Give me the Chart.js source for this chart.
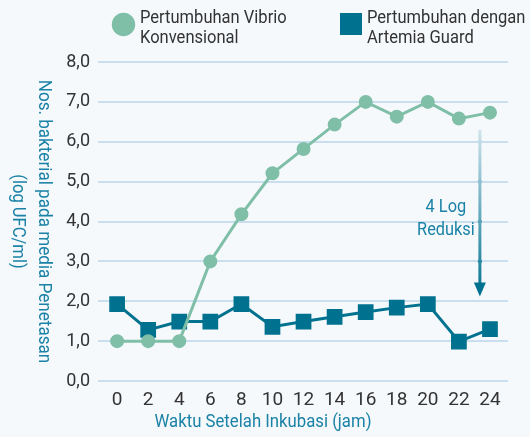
<!DOCTYPE html>
<html>
<head>
<meta charset="utf-8">
<script src="https://cdn.jsdelivr.net/npm/chart.js@4"></script>
<style>
  html, body { margin: 0; padding: 0; background: #f6f9fc; }
  #wrap { width: 530px; height: 437px; position: relative; }
</style>
</head>
<body>
<div id="wrap"><canvas id="chart"></canvas></div>
<script>
// Data
const hours = [0, 2, 4, 6, 8, 10, 12, 14, 16, 18, 20, 22, 24];
const vibrio = [1.0, 1.0, 1.0, 3.0, 4.18, 5.21, 5.82, 6.43, 7.0, 6.63, 7.0, 6.58, 6.73];
const artemia = [1.93, 1.28, 1.49, 1.49, 1.93, 1.36, 1.49, 1.61, 1.73, 1.84, 1.93, 0.99, 1.3];
const yTicks = [0, 1, 2, 3, 4, 5, 6, 7, 8];

const vibrioLabel = ['Pertumbuhan Vibrio', 'Konvensional'];
const artemiaLabel = ['Pertumbuhan dengan', 'Artemia Guard'];
const yTitle = ['Nos. bakterial pada media Penetasan', '(log UFC/ml)'];
const xTitle = 'Waktu Setelah Inkubasi (jam)';
const noteText = ['4 Log', 'Reduksi'];

// Colours
const GREEN = '#80bfa7';
const BLUE = '#00728f';
const GRID = '#c9dff0';
const TEAL = '#1a82a6';
const FONT = 'Roboto, "Liberation Sans", sans-serif';

// Arrow "4 Log Reduksi" (in data units)
const arrowHour = 23.35;
const arrowFrom = 6.3;
const arrowTo = 2.12;

// condensed text: draw squeezed horizontally
function narrowText(ctx, text, x, y, sx) {
  ctx.save();
  ctx.translate(x, y);
  ctx.scale(sx, 1);
  ctx.fillText(text, 0, 0);
  ctx.restore();
}

const extras = {
  id: 'extras',
  afterDraw(chart) {
    const { ctx, scales: { x, y } } = chart;
    ctx.save();

    // legend
    ctx.font = '19px ' + FONT;
    ctx.textBaseline = 'alphabetic';
    ctx.textAlign = 'left';
    ctx.fillStyle = GREEN;
    ctx.beginPath();
    ctx.arc(123.5, 24.5, 11.7, 0, Math.PI * 2);
    ctx.fill();
    ctx.fillStyle = BLUE;
    ctx.fillRect(340, 13, 22, 22);
    ctx.fillStyle = '#333';
    vibrioLabel.forEach((t, i) => narrowText(ctx, t, 140, 23 + i * 20, 0.87));
    artemiaLabel.forEach((t, i) => narrowText(ctx, t, 367, 23 + i * 20, 0.87));

    // axis titles
    ctx.fillStyle = TEAL;
    ctx.font = '18px ' + FONT;
    ctx.textAlign = 'center';
    ctx.textBaseline = 'middle';
    narrowText(ctx, xTitle, 263, 422, 0.93);

    const cy = (chart.chartArea.top + chart.chartArea.bottom) / 2;
    ctx.save();
    ctx.translate(43, cy);
    ctx.rotate(Math.PI / 2);
    narrowText(ctx, yTitle[0], 0, 0, 0.95);
    narrowText(ctx, yTitle[1], 0, 26, 0.92);
    ctx.restore();

    // arrow
    const ax = x.getPixelForValue(arrowHour);
    const ay1 = y.getPixelForValue(arrowFrom);
    const ay2 = y.getPixelForValue(arrowTo);
    const grad = ctx.createLinearGradient(0, ay1, 0, ay2);
    grad.addColorStop(0, '#cfe3ec');
    grad.addColorStop(1, BLUE);
    ctx.strokeStyle = grad;
    ctx.lineWidth = 3;
    ctx.beginPath();
    ctx.moveTo(ax, ay1);
    ctx.lineTo(ax, ay2 - 10);
    ctx.stroke();
    ctx.fillStyle = BLUE;
    ctx.beginPath();
    ctx.moveTo(ax - 6, ay2 - 14);
    ctx.lineTo(ax + 6, ay2 - 14);
    ctx.lineTo(ax, ay2);
    ctx.closePath();
    ctx.fill();
    // little marks where the arrow crosses the grid
    ctx.fillStyle = grad;
    yTicks.forEach(v => {
      const py = y.getPixelForValue(v);
      if (py > ay1 + 4 && py < ay2 - 14) ctx.fillRect(ax - 2, py - 1.5, 4, 3);
    });

    // note
    ctx.fillStyle = TEAL;
    ctx.font = '19px ' + FONT;
    ctx.textAlign = 'center';
    narrowText(ctx, noteText[0], ax - 34, y.getPixelForValue(4.35), 0.86);
    narrowText(ctx, noteText[1], ax - 34, y.getPixelForValue(3.78), 0.86);

    ctx.restore();
  }
};

new Chart(document.getElementById('chart'), {
  type: 'line',
  data: {
    datasets: [
      {
        label: vibrioLabel.join(' '),
        data: hours.map((h, i) => ({ x: h, y: vibrio[i] })),
        borderColor: GREEN,
        backgroundColor: GREEN,
        borderWidth: 3,
        pointStyle: 'circle',
        pointRadius: 5.5,
        pointHoverRadius: 5.5,
        tension: 0
      },
      {
        label: artemiaLabel.join(' '),
        data: hours.map((h, i) => ({ x: h, y: artemia[i] })),
        borderColor: BLUE,
        backgroundColor: BLUE,
        borderWidth: 3,
        pointStyle: 'rect',
        pointRadius: 9,
        pointHoverRadius: 9,
        tension: 0
      }
    ]
  },
  options: {
    responsive: true,
    maintainAspectRatio: false,
    animation: false,
    layout: { padding: { top: 62, right: 22, left: 0, bottom: 0 } },
    plugins: {
      legend: { display: false },
      tooltip: { enabled: false }
    },
    scales: {
      x: {
        type: 'linear',
        min: -1.23,
        max: 25.16,
        afterBuildTicks: s => { s.ticks = hours.map(v => ({ value: v })); },
        afterFit: s => { s.height = 56; },
        grid: { display: false },
        border: { display: false },
        ticks: {
          color: '#333',
          padding: 0,
          maxRotation: 0,
          autoSkip: false,
          font: { family: FONT, size: 19 }
        }
      },
      y: {
        min: 0,
        max: 8,
        afterBuildTicks: s => { s.ticks = yTicks.map(v => ({ value: v })); },
        afterFit: s => { s.width = 98; },
        grid: { color: GRID, lineWidth: 2, drawTicks: false },
        border: { display: false },
        ticks: {
          color: '#333',
          padding: 8,
          font: { family: FONT, size: 18 },
          callback: v => v.toFixed(1).replace('.', ',')
        }
      }
    }
  },
  plugins: [extras]
});
</script>
</body>
</html>
